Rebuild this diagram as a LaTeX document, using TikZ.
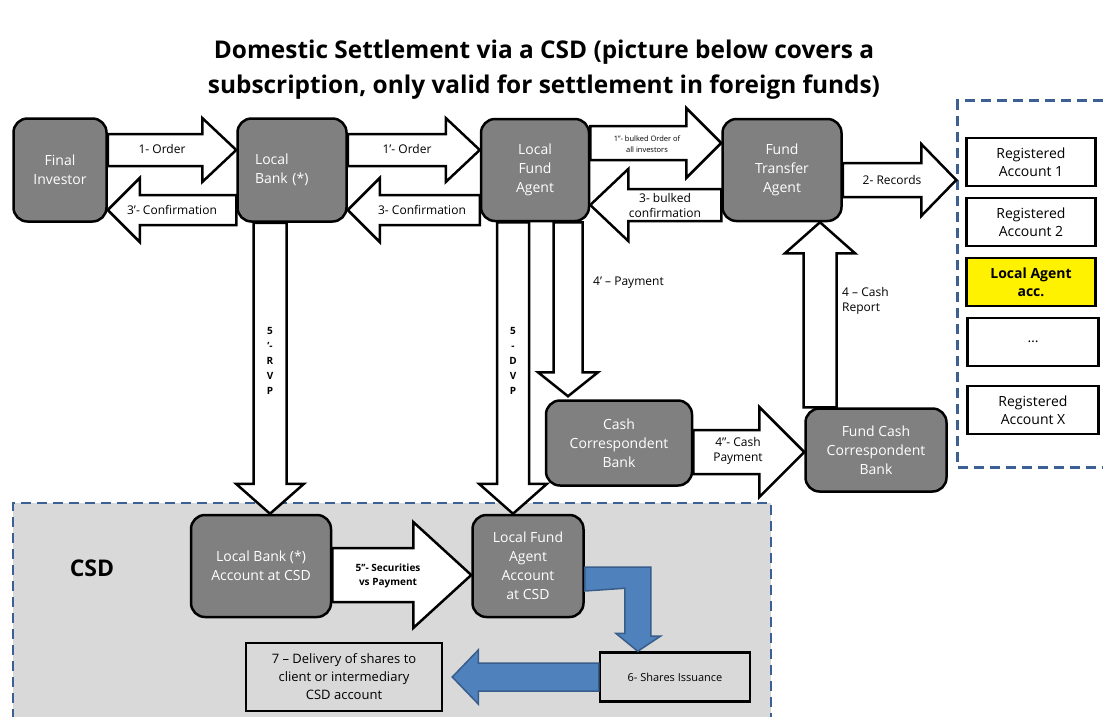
\documentclass[tikz,border=0pt]{standalone}
\usepackage{fontspec}
\setmainfont{Open Sans}
\usetikzlibrary{calc}

\definecolor{boxgray}{HTML}{808080}
\definecolor{csdgray}{HTML}{D9D9D9}
\definecolor{dashblue}{HTML}{3A6094}
\definecolor{bluefill}{HTML}{4F81BD}
\definecolor{blueedge}{HTML}{385D8A}

% block arrow: [style]{from}{to}{half shaft}{half head}{head length}
\newcommand\blockarrow[6][flow]{%
  \coordinate (ba1) at #2; \coordinate (ba2) at #3;
  \coordinate (bahead) at ($(ba2)!#6!(ba1)$);
  \draw[#1] ($(ba1)!#4!90:(ba2)$) -- ($(bahead)!#4!90:(ba2)$) -- ($(bahead)!#5!90:(ba2)$) -- (ba2)
    -- ($(bahead)!#5!-90:(ba2)$) -- ($(bahead)!#4!-90:(ba2)$) -- ($(ba1)!#4!-90:(ba2)$) -- cycle;}

\tikzset{
  agent/.style={draw=black, line width=2.5pt, fill=boxgray, rounded corners=14pt, text=white,
    font=\fontsize{14}{19}\selectfont, align=center, inner sep=0pt},
  account/.style={draw=black, line width=2.5pt, fill=white, font=\fontsize{14}{18}\selectfont,
    align=center, minimum width=129pt, minimum height=48pt, inner sep=0pt},
  flow/.style={draw=black, line width=2.5pt, fill=white},
  blueflow/.style={draw=blueedge, line width=1.5pt, fill=bluefill},
  lbl/.style={font=\fontsize{12}{15}\selectfont, align=center, inner sep=0pt},
  region/.style={draw=dashblue, line width=2.5pt, dash pattern=on 10pt off 6pt, inner sep=0pt},
}

\begin{document}
\begin{tikzpicture}[x=1pt, y=-1pt]
  \useasboundingbox (0,0) rectangle (1103,716);

  % areas
  \node[region, fill=csdgray, minimum width=758pt, minimum height=230pt] (csd) at (392,618) {};
  \node[region, minimum width=153pt, minimum height=367pt] (registry) at (1034,284) {};

  \node[font=\bfseries\fontsize{24.4}{35}\selectfont, align=center] (title) at (544,70)
    {Domestic Settlement via a CSD (picture below covers a\\subscription, only valid for settlement in foreign funds)};

  % participants
  \node[agent, minimum width=93pt, minimum height=103pt] (fi) at (60,170) {Final\\Investor};
  \node[agent, minimum width=109pt, minimum height=103pt, align=left, text width=74pt] (lb) at (292,170) {Local\\Bank (*)};
  \node[agent, minimum width=108pt, minimum height=102pt] (lfa) at (535,170) {Local\\Fund\\Agent};
  \node[agent, minimum width=119pt, minimum height=102pt] (fta) at (782,170) {Fund\\Transfer\\Agent};
  \node[agent, minimum width=146pt, minimum height=85pt] (ccb) at (619,443) {Cash\\Correspondent\\Bank};
  \node[agent, minimum width=141pt, minimum height=83pt] (fccb) at (876,450) {Fund Cash\\Correspondent\\Bank};
  \node[agent, minimum width=140pt, minimum height=102pt] (lbcsd) at (261,566) {Local Bank (*)\\Account at CSD};
  \node[agent, minimum width=111pt, minimum height=102pt] (lfacsd) at (528,566) {Local Fund\\Agent\\Account\\at CSD};

  % register of the fund
  \node[account] (reg1) at (1031,162) {Registered\\Account 1};
  \node[account] (reg2) at (1031,222) {Registered\\Account 2};
  \node[account, fill=yellow, font=\fontsize{14}{18}\selectfont\bfseries] (agentacc) at (1031,282) {Local Agent\\acc.};
  \node[account, minimum width=131pt] (regdots) at (1033,342) {…};
  \node[account, minimum width=131pt] (regx) at (1033,410) {Registered\\Account X};

  % orders and confirmations
  \blockarrow{([yshift=20pt]fi.east)}{([yshift=20pt]lb.west)}{16pt}{32pt}{34pt}
  \blockarrow{([yshift=-40pt]lb.west)}{([yshift=-40pt]fi.east)}{15pt}{32pt}{32pt}
  \blockarrow{([yshift=20pt]lb.east)}{([yshift=20pt]lfa.west)}{16pt}{32pt}{34pt}
  \blockarrow{([yshift=-40pt]lfa.west)}{([yshift=-40pt]lb.east)}{15pt}{32pt}{32pt}
  \blockarrow{([yshift=27pt]lfa.east)}{([yshift=27pt]fta.west)}{17pt}{35pt}{35pt}
  \blockarrow{([yshift=-35pt]fta.west)}{([yshift=-35pt]lfa.east)}{16pt}{36pt}{38pt}
  \blockarrow{([yshift=-10pt]fta.east)}{([yshift=-10pt]fta.east -| registry.west)}{17pt}{36pt}{35pt}

  \node[lbl] (o1) at (162,149) {1- Order};
  \node[lbl] (c3a) at (172,210) {3’- Confirmation};
  \node[lbl] (o1a) at (407,149) {1’- Order};
  \node[lbl] (c3) at (422,210) {3- Confirmation};
  \node[lbl, font=\fontsize{7.5}{11.5}\selectfont] (o1b) at (647,144) {1’’- bulked Order of\\all investors};
  \node[lbl] (c3b) at (665,205) {3- bulked\\confirmation};
  \node[lbl] (rec) at (892,180) {2- Records};

  % settlement
  \coordinate (rvptop) at ([xshift=-22pt]lb.south);
  \coordinate (dvptop) at ([xshift=-22pt]lfa.south);
  \coordinate (paytop) at ([xshift=33pt]lfa.south);
  \blockarrow{(rvptop)}{(rvptop |- lbcsd.north)}{16.5pt}{34pt}{30pt}
  \blockarrow{(dvptop)}{(dvptop |- lfacsd.north)}{16pt}{34pt}{30pt}
  \blockarrow{(paytop)}{([yshift=3pt]paytop |- ccb.north)}{14.5pt}{30pt}{24pt}
  \blockarrow{([yshift=-9pt]ccb.east)}{([yshift=-9pt]ccb.east -| fccb.west)}{22pt}{45pt}{45pt}
  \blockarrow{([xshift=-56pt]fccb.north)}{([xshift=-56pt]fccb.north |- fta.south)}{16.5pt}{35pt}{31pt}
  \blockarrow{([yshift=-9pt]lbcsd.east)}{([yshift=-9pt]lbcsd.east -| lfacsd.west)}{27pt}{53pt}{58pt}

  \node[lbl, font=\fontsize{10}{15}\selectfont\bfseries] (rvp) at (270,361) {5\\’-\\R\\V\\P};
  \node[lbl, font=\fontsize{10}{15}\selectfont\bfseries] (dvp) at (513,361) {5\\-\\D\\V\\P};
  \node[lbl, anchor=west] (pay) at (593,283) {4’ – Payment};
  \node[lbl, anchor=west, align=left] (rep) at (842,301) {4 – Cash\\Report};
  \node[lbl] (cpay) at (738,451) {4’’- Cash\\Payment};
  \node[lbl, font=\fontsize{10}{14}\selectfont\bfseries] (svp) at (388,576) {5’’- Securities\\vs Payment};

  % CSD part
  \node[font=\fontsize{23}{28}\selectfont\bfseries] (csdname) at (92,568) {CSD};
  \node[draw=black, line width=2.5pt, fill=csdgray, minimum width=150pt, minimum height=49pt,
    font=\fontsize{11}{14}\selectfont] (shares) at (675,677) {6- Shares Issuance};
  \node[draw=black, line width=2.5pt, fill=csdgray, minimum width=196pt, minimum height=68pt,
    font=\fontsize{13}{18}\selectfont, align=center] (delivery) at (344,677) {7 – Delivery of shares to\\client or intermediary\\CSD account};

  \draw[blueflow] ([yshift=-1pt]lfacsd.east) -- ++(66,0) -- ++(0,69) -- ++(10,0)
    -- ([xshift=39pt]shares.north west) -- ++(-22,-18) -- ++(9,0) -- ++(0,-45) -- ([yshift=-25pt]lfacsd.east) -- cycle;
  \blockarrow[blueflow]{(shares.west)}{([xshift=9pt]delivery.east)}{14pt}{27pt}{26pt}
\end{tikzpicture}
\end{document}
